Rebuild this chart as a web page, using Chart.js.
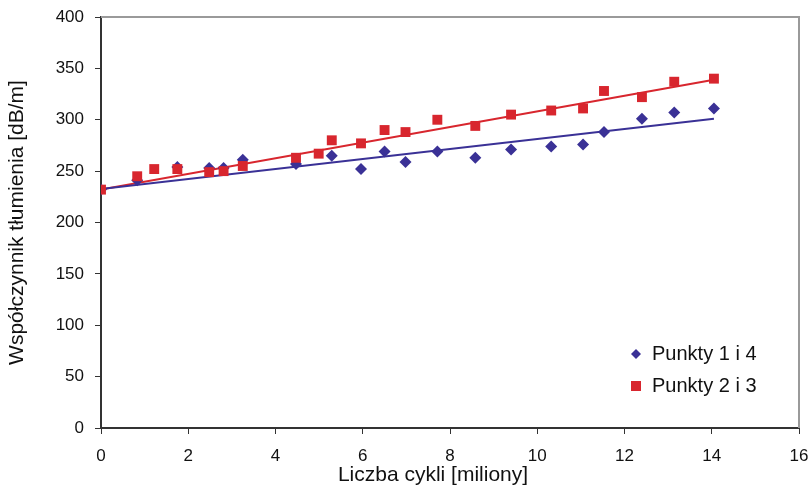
<!DOCTYPE html>
<html>
<head>
<meta charset="utf-8">
<script src="https://cdn.jsdelivr.net/npm/chart.js@4"></script>
<style>
html,body{margin:0;padding:0;background:#fff;}
#wrap{width:812px;height:489px;position:relative;}
</style>
</head>
<body>
<div id="wrap"><canvas id="c" width="812" height="489"></canvas></div>
<script>
const seriesLabels = ["Punkty 1 i 4", "Punkty 2 i 3"];
const xTitle = "Liczba cykli [miliony]";
const yTitle = "Współczynnik tłumienia [dB/m]";

const blueX = [0, 0.83, 1.75, 2.48, 2.81, 3.25, 4.47, 5.29, 5.96, 6.5, 6.98, 7.71, 8.58, 9.4, 10.32, 11.05, 11.53, 12.4, 13.14, 14.05];
const blueY = [232, 241, 254, 253, 253, 261, 257, 265, 252, 269, 259, 269, 263, 271, 274, 276, 288, 301, 307, 311];
const redX = [0, 0.83, 1.22, 1.75, 2.48, 2.81, 3.25, 4.47, 4.99, 5.29, 5.96, 6.5, 6.98, 7.71, 8.58, 9.4, 10.32, 11.05, 11.53, 12.4, 13.14, 14.05];
const redY = [232, 245, 252, 252, 249, 250, 255, 263, 267, 280, 277, 290, 288, 300, 294, 305, 309, 311, 328, 322, 337, 340];

const blueTrendX = [0, 14.05];
const blueTrendY = [232.5, 301];
const redTrendX = [0, 14.05];
const redTrendY = [232, 339];

const xTicks = [0, 2, 4, 6, 8, 10, 12, 14, 16];
const yTicks = [0, 50, 100, 150, 200, 250, 300, 350, 400];

const BLUE = '#3a3196';
const RED = '#d8262e';
const FONT = '"Liberation Sans", Arial, sans-serif';

const pts = (xs, ys) => xs.map((x, i) => ({x: x, y: ys[i]}));

const extras = {
  id: 'extras',
  beforeDraw(chart) {
    const ctx = chart.ctx;
    ctx.save();
    ctx.fillStyle = '#fff';
    ctx.fillRect(0, 0, chart.width, chart.height);
    ctx.restore();
  },
  afterDraw(chart) {
    const ctx = chart.ctx;
    const a = chart.chartArea;
    ctx.save();
    ctx.strokeStyle = '#9a9a9a';
    ctx.lineWidth = 2;
    ctx.beginPath();
    ctx.moveTo(a.left, a.top);
    ctx.lineTo(a.right, a.top);
    ctx.lineTo(a.right, a.bottom);
    ctx.stroke();
    ctx.fillStyle = '#111';
    ctx.font = '21px ' + FONT;
    ctx.textAlign = 'center';
    ctx.textBaseline = 'alphabetic';
    ctx.fillText(xTitle, 433, 481);
    const items = [
      {ds: chart.data.datasets[2], y: 354},
      {ds: chart.data.datasets[3], y: 386}
    ];
    ctx.font = '20px ' + FONT;
    ctx.textAlign = 'left';
    ctx.textBaseline = 'middle';
    items.forEach(it => {
      ctx.fillStyle = it.ds.backgroundColor;
      ctx.beginPath();
      if (it.ds.pointStyle === 'rectRot') {
        const r = 5;
        ctx.moveTo(636, it.y - r);
        ctx.lineTo(636 + r, it.y);
        ctx.lineTo(636, it.y + r);
        ctx.lineTo(636 - r, it.y);
        ctx.closePath();
      } else {
        ctx.rect(631, it.y - 5, 10, 10);
      }
      ctx.fill();
      ctx.fillStyle = '#111';
      ctx.fillText(it.ds.label, 652, it.y);
    });
    ctx.restore();
  }
};

new Chart(document.getElementById('c'), {
  type: 'scatter',
  data: {
    datasets: [
      {label: 'trend1', data: pts(blueTrendX, blueTrendY), showLine: true, borderColor: BLUE, borderWidth: 2, pointRadius: 0, order: 3},
      {label: 'trend2', data: pts(redTrendX, redTrendY), showLine: true, borderColor: RED, borderWidth: 2, pointRadius: 0, order: 4},
      {label: seriesLabels[0], data: pts(blueX, blueY), pointStyle: 'rectRot', pointRadius: 6, backgroundColor: BLUE, borderWidth: 0, order: 2},
      {label: seriesLabels[1], data: pts(redX, redY), pointStyle: 'rect', pointRadius: 7, backgroundColor: RED, borderWidth: 0, order: 1}
    ]
  },
  options: {
    responsive: false,
    animation: false,
    layout: {padding: {top: 17, right: 13, left: 0, bottom: 0}},
    plugins: {legend: {display: false}, tooltip: {enabled: false}},
    scales: {
      x: {
        type: 'linear', min: 0, max: 16,
        afterBuildTicks: (ax) => { ax.ticks = xTicks.map(v => ({value: v})); },
        afterFit: (ax) => { ax.height = 61; ax.paddingLeft = 0; ax.paddingRight = 0; },
        border: {display: true, color: '#333', width: 2},
        grid: {display: true, drawOnChartArea: false, drawTicks: true, tickLength: 6, color: '#333', lineWidth: 1},
        ticks: {color: '#111', font: {family: FONT, size: 17}, padding: 12, maxRotation: 0}
      },
      y: {
        type: 'linear', min: 0, max: 400,
        afterBuildTicks: (ax) => { ax.ticks = yTicks.map(v => ({value: v})); },
        afterFit: (ax) => { ax.width = 101; ax.paddingTop = 0; ax.paddingBottom = 0; },
        border: {display: true, color: '#333', width: 2},
        grid: {display: true, drawOnChartArea: false, drawTicks: true, tickLength: 6, color: '#333', lineWidth: 1},
        ticks: {color: '#111', font: {family: FONT, size: 17}, padding: 11},
        title: {display: true, text: yTitle, color: '#111', font: {family: FONT, size: 21}, padding: {top: 5, bottom: 0}}
      }
    }
  },
  plugins: [extras]
});
</script>
</body>
</html>
